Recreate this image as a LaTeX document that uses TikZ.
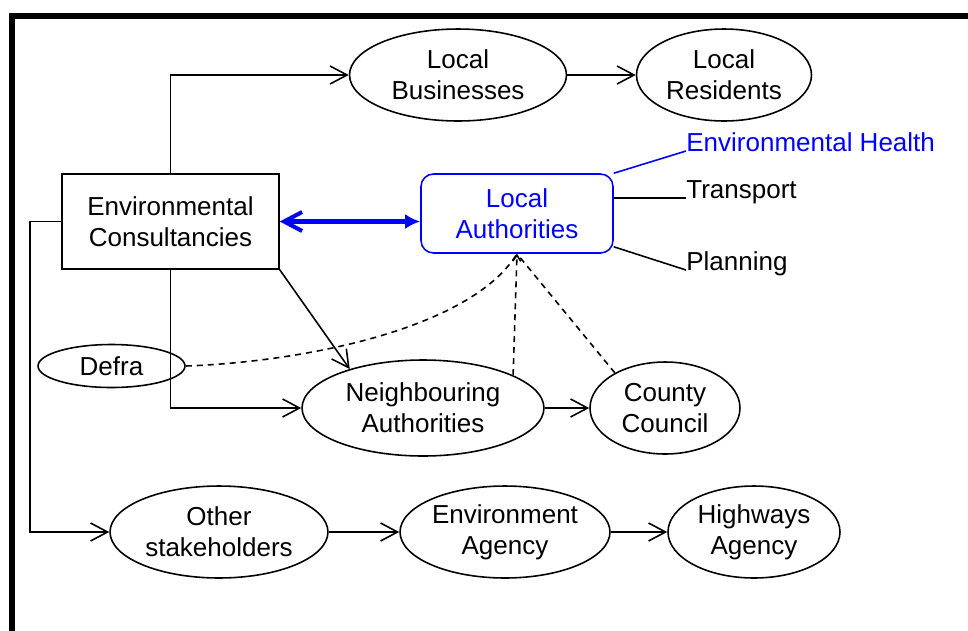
\documentclass[tikz,border=0pt]{standalone}
\usepackage{fontspec}
\setmainfont{Liberation Sans}
\usetikzlibrary{arrows.meta}
\usetikzlibrary{shapes.geometric}
\tikzset{%
	actor/.style={ellipse,draw,line width=0.9pt,inner sep=0pt,align=center},
	box/.style={rectangle,draw,line width=0.9pt,inner sep=0pt,align=center},
	link/.style={-{Straight Barb[length=3.4mm,width=3.6mm]},line width=0.9pt},
	tie/.style={dash pattern=on 1.2mm off 1mm,line width=0.9pt},
	dept/.style={anchor=base west,inner sep=0pt},
}

\begin{document}
\begin{tikzpicture}[x=0.02cm,y=-0.02cm,font=\fontsize{14.8}{17.5}\selectfont]
	\useasboundingbox (0,0) rectangle (968,630);
	\draw[line width=3.4pt] (12,645) -- (12,16) -- (985,16);
	% top row
	\node[actor,minimum width=4.34cm,minimum height=1.84cm] (lb) at (458,75) {Local\\Businesses};
	\node[actor,minimum width=3.5cm,minimum height=1.84cm] (lr) at (724,75) {Local\\Residents};
	% middle
	\node[box,minimum width=4.34cm,minimum height=1.9cm] (ec) at (170.5,221.5) {Environmental\\Consultancies};
	\node[box,draw=blue,text=blue,rounded corners=0.25cm,minimum width=3.84cm,minimum height=1.58cm] (la) at (517,213.5) {Local\\Authorities};
	\node[dept,text=blue] (eh) at (686,151) {Environmental Health};
	\node[dept] (tr) at (686,198) {Transport};
	\node[dept] (pl) at (686,270) {Planning};
	\node[actor,minimum width=2.94cm,minimum height=0.86cm] (df) at (111.5,366) {Defra};
	\node[actor,minimum width=4.84cm,minimum height=1.92cm] (na) at (423,408) {Neighbouring\\Authorities};
	\node[actor,minimum width=3cm,minimum height=1.84cm] (cc) at (665,408) {County\\Council};
	% bottom row
	\node[actor,minimum width=4.36cm,minimum height=1.84cm] (os) at (219,532) {Other\\stakeholders};
	\node[actor,minimum width=4.2cm,minimum height=1.84cm] (ea) at (505,532) {Environment\\Agency};
	\node[actor,minimum width=3.44cm,minimum height=1.84cm] (ha) at (754,532) {Highways\\Agency};
	% connectors
	\draw[link] (ec.north) |- (lb.west);
	\draw[link] (lb) -- (lr);
	\draw[line width=2.3pt,blue,{Straight Barb[length=3.6mm,width=3.8mm]}-{Latex[length=3mm,width=3mm]}] (ec.east) -- (ec.east -| la.west);
	\draw[blue,line width=0.9pt] (la.north east) -- (eh.base west);
	\draw[line width=0.9pt] (la.east |- tr.base west) -- (tr.base west);
	\draw[line width=0.9pt] ([yshift=0.14cm]la.south east) -- (pl.base west);
	\draw[link] (ec.south east) -- (na.152);
	\draw[link] (ec.south) |- (na.west);
	\draw[link] (na) -- (cc);
	\draw[tie] (df.east) .. controls (300,362) and (470,330) .. (la.south);
	\draw[tie,-{Straight Barb[length=1.2mm,width=1.6mm]}] (na.20) -- (la.south);
	\draw[tie] (cc.145) -- (la.south);
	\draw[link] (ec.west) -- ++(-31,0) |- (os.west);
	\draw[link] (os) -- (ea);
	\draw[link] (ea) -- (ha);
\end{tikzpicture}
\end{document}
